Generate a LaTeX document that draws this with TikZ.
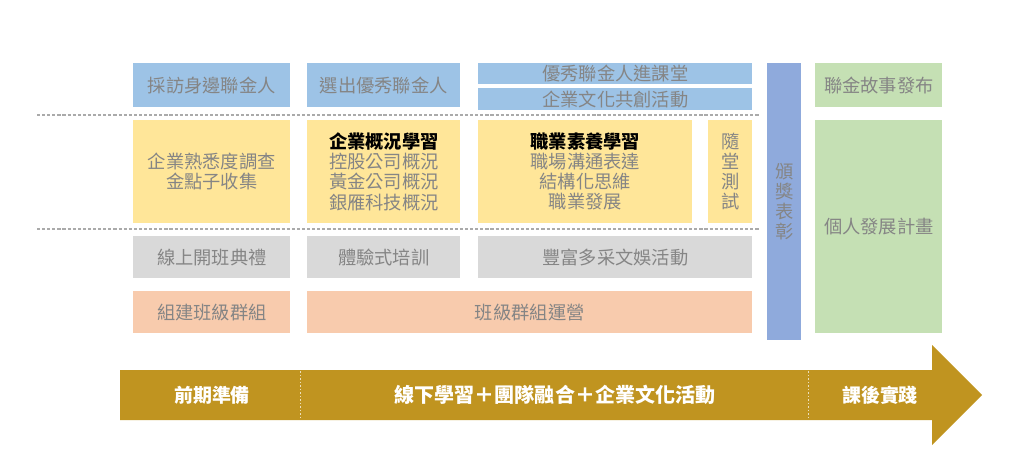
\documentclass[tikz,border=0pt]{standalone}
\usepackage{fontspec}
\setmainfont{Noto Sans CJK TC}
\usetikzlibrary{calc}

\definecolor{topblue}{HTML}{9DC3E6}
\definecolor{awardblue}{HTML}{8FAADC}
\definecolor{learnyellow}{HTML}{FFE699}
\definecolor{eventgray}{HTML}{D9D9D9}
\definecolor{grouppeach}{HTML}{F8CBAD}
\definecolor{aftergreen}{HTML}{C5E0B4}
\definecolor{arrowgold}{HTML}{C09420}
\definecolor{txtgray}{HTML}{858585}

\tikzset{
    cell/.style 2 args={
        anchor=north west, inner sep=0pt, align=center,
        minimum width=#1, minimum height=#2,
        text=txtgray, font=\fontsize{10.4}{11.4}\selectfont
    },
    rowline/.style={draw=txtgray!70, line width=0.6pt, dash pattern=on 1.8pt off 1.1pt},
    phase/.style={text=white, font=\fontsize{10.8}{12}\selectfont\bfseries}
}

\begin{document}
\begin{tikzpicture}[
    x=0.02cm,
    y=-0.02cm
]
\useasboundingbox (0,0) rectangle (1024,466);

% --- obere Reihe: blau ---
\node[cell={3.14cm}{0.88cm}, fill=topblue] (interview) at (133,63) {採訪身邊聯金人};
\node[cell={3.06cm}{0.88cm}, fill=topblue] (select) at (307,63) {選出優秀聯金人};
\node[cell={5.48cm}{0.42cm}, fill=topblue] (classroom) at (478,63) {優秀聯金人進課堂};
\node[cell={5.48cm}{0.44cm}, fill=topblue] (cocreate) at (478,88) {企業文化共創活動};

% --- Trennlinien ---
\draw[rowline] (37,115) -- (760,115);
\draw[rowline] (37,229) -- (760,229);

% --- Lernreihe: gelb ---
\node[cell={3.14cm}{2.06cm}, fill=learnyellow] (survey) at (133,120)
    {企業熟悉度調查\\金點子收集};
\node[cell={3.06cm}{2.06cm}, fill=learnyellow] (company) at (307,120)
    {\textcolor{black}{\bfseries 企業概況學習}\\控股公司概況\\黃金公司概況\\銀雁科技概況};
\node[cell={4.28cm}{2.06cm}, fill=learnyellow] (career) at (478,120)
    {\textcolor{black}{\bfseries 職業素養學習}\\職場溝通表達\\結構化思維\\職業發展};
\node[cell={0.88cm}{2.06cm}, fill=learnyellow] (quiz) at (708,120)
    {隨\\堂\\測\\試};

% --- Aktivitaeten: grau ---
\node[cell={3.14cm}{0.84cm}, fill=eventgray] (opening) at (133,236) {線上開班典禮};
\node[cell={3.06cm}{0.84cm}, fill=eventgray] (training) at (307,236) {體驗式培訓};
\node[cell={5.48cm}{0.84cm}, fill=eventgray] (leisure) at (478,236) {豐富多采文娛活動};

% --- Gruppen: lachs ---
\node[cell={3.14cm}{0.84cm}, fill=grouppeach] (build) at (133,291) {組建班級群組};
\node[cell={8.9cm}{0.84cm}, fill=grouppeach] (operate) at (307,291) {班級群組運營};

% --- Preisverleihung ---
\node[cell={0.68cm}{5.54cm}, fill=awardblue] (award) at (767,63) {頒\\獎\\表\\彰};

% --- nach dem Kurs: gruen ---
\node[cell={2.54cm}{0.88cm}, fill=aftergreen] (story) at (815,63) {聯金故事發布};
\node[cell={2.54cm}{4.26cm}, fill=aftergreen] (plan) at (815,120) {個人發展計畫};

% --- Zeitpfeil ---
\fill[arrowgold] (120,370) -- (932,370) -- (932,345) -- (982,395)
    -- (932,445) -- (932,420) -- (120,420) -- cycle;
\draw[white!70!arrowgold, line width=0.4pt, dash pattern=on 1pt off 1pt] (300,371) -- (300,419);
\draw[white!70!arrowgold, line width=0.4pt, dash pattern=on 1pt off 1pt] (808,371) -- (808,419);

\node[phase] (prep) at (212,395) {前期準備};
\node[phase, font=\fontsize{11.4}{12}\selectfont\bfseries] (offline) at (555,395)
    {線下學習＋團隊融合＋企業文化活動};
\node[phase] (after) at (880,395) {課後實踐};

\end{tikzpicture}
\end{document}
